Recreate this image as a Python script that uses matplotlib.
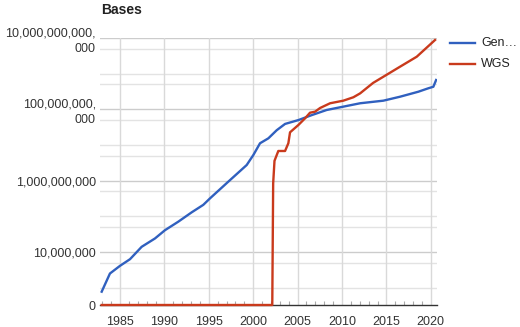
import matplotlib
matplotlib.use("Agg")
import matplotlib.pyplot as plt
from matplotlib.lines import Line2D
from matplotlib.ticker import FixedLocator, FixedFormatter

plt.rcParams['font.family'] = ['Liberation Sans', 'DejaVu Sans']

# GenBank cumulative bases
genbank_years = [1982.94, 1983.87, 1985.0, 1986.13, 1987.44, 1988.94, 1990.07,
                 1991.57, 1993.08, 1994.38, 1995.14, 1997.2, 1999.27, 2000.02,
                 2000.77, 2001.71, 2002.65, 2003.59, 2005.09, 2006.6, 2008.28,
                 2010.15, 2012.04, 2014.66, 2016.54, 2018.6, 2019.73, 2020.29,
                 2020.6]
genbank_bases = [7.7e5, 2.5e6, 4.1e6, 6.3e6, 1.4e7, 2.4e7, 4.1e7,
                 7.1e7, 1.3e8, 2.1e8, 3.2e8, 9.4e8, 2.75e9, 5.25e9,
                 1.12e10, 1.54e10, 2.6e10, 3.9e10, 5.0e10, 6.9e10, 9.6e10,
                 1.19e11, 1.48e11, 1.75e11, 2.26e11, 3.12e11, 3.9e11, 4.3e11,
                 6.65e11]

# WGS cumulative bases
wgs_years = [1982.94, 2002.15, 2002.25, 2002.4, 2002.83, 2003.59, 2003.96,
             2004.15, 2005.09, 2005.84, 2006.4, 2006.97, 2007.53, 2008.66,
             2010.15, 2011.28, 2012.04, 2013.5, 2014.66, 2016.54, 2018.42,
             2020.48]
wgs_bases = [0, 0, 8.4e8, 3.6e9, 6.8e9, 6.8e9, 1.12e10,
             2.27e10, 3.64e10, 5.6e10, 8.05e10, 8.6e10, 1.09e11, 1.48e11,
             1.75e11, 2.18e11, 2.8e11, 5.5e11, 8.2e11, 1.57e12, 2.99e12,
             8.8e12]

year_ticks = [1985, 1990, 1995, 2000, 2005, 2010, 2015, 2020]
value_ticks = [0, 1e7, 1e9, 1e11, 1e13]
value_labels = ["0", "10,000,000", "1,000,000,000", "100,000,000,\n000",
                "10,000,000,000,\n000"]
series_names = ["Gen\u2026", "WGS"]

blue = "#3060bf"
red = "#c93a1c"
text_color = "#333333"

fig = plt.figure(figsize=(5.2, 3.27), dpi=100)
ax = fig.add_axes([100 / 520, 22 / 327, 337 / 520, 267 / 327])

ax.set_yscale("symlog", linthresh=1e6, linscale=0.4365, base=10)
ax.set_ylim(0, 1e13)
ax.set_xlim(1982.75, 2020.7)

# horizontal grid: labelled levels darker, 1 and 5 multiples lighter
for k in range(6, 14):
    for m in (1, 5):
        v = m * 10 ** k
        if v > 1e13:
            continue
        col = "#cccccc" if v in value_ticks else "#e3e3e3"
        ax.axhline(v, color=col, lw=1.0, zorder=0)
for yr in year_ticks:
    ax.axvline(yr, color="#d9d9d9", lw=1.0, zorder=0)

ax.plot(genbank_years, genbank_bases, color=blue, lw=1.7, zorder=3,
        solid_joinstyle="round")
ax.plot(wgs_years, wgs_bases, color=red, lw=1.7, zorder=4, clip_on=False,
        solid_joinstyle="round")

for s in ("left", "right", "top"):
    ax.spines[s].set_visible(False)
ax.spines["bottom"].set_color("#333333")
ax.spines["bottom"].set_linewidth(1.0)
ax.spines["bottom"].set_zorder(2)

ax.yaxis.set_major_locator(FixedLocator(value_ticks))
ax.yaxis.set_major_formatter(FixedFormatter(value_labels))
ax.yaxis.set_minor_locator(FixedLocator([]))
ax.tick_params(axis="y", length=0, pad=3, labelsize=9, labelcolor=text_color)
for lab in ax.get_yticklabels():
    lab.set_linespacing(1.35)

ax.xaxis.set_major_locator(FixedLocator(year_ticks))
ax.xaxis.set_minor_locator(FixedLocator(range(1983, 2021)))
ax.tick_params(axis="x", which="major", length=0, pad=8, labelsize=9,
               labelcolor=text_color)
ax.tick_params(axis="x", which="minor", direction="in", length=3,
               color="#aaaaaa", width=0.8)

fig.text(101 / 520, 1 - 14.5 / 327, "Bases", fontsize=10, fontweight="bold",
         color="#222222", ha="left", va="baseline")

# legend
for i, (name, col) in enumerate(zip(series_names, [blue, red])):
    yy = 1 - (43 + 21 * i) / 327
    fig.add_artist(Line2D([450 / 520, 475 / 520], [yy, yy], color=col, lw=1.7,
                          transform=fig.transFigure))
    fig.text(481 / 520, yy, name, fontsize=9, color="#222222", ha="left",
             va="center")

fig.savefig("out.png", dpi=100)
